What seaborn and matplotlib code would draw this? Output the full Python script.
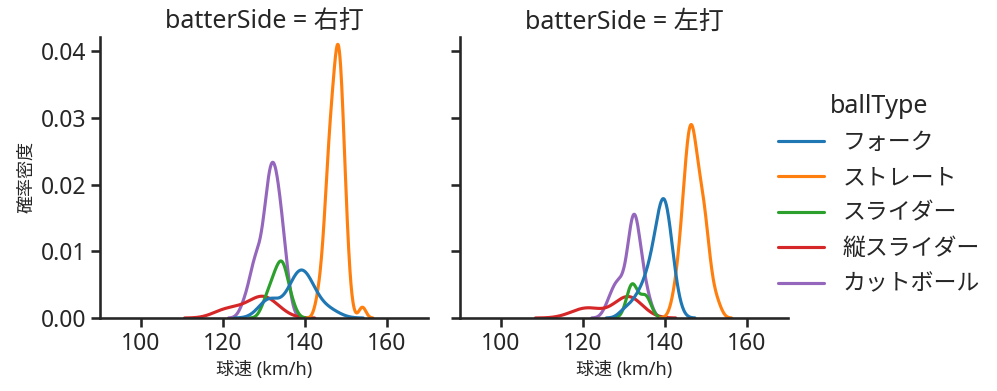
import numpy as np
import pandas as pd
import seaborn as sns
import matplotlib.pyplot as plt

# pitch speed (km/h) and number of pitches at that speed, per batter side / ball type
# vs right-handed batters (右打)
r_fork_kmh = [130, 131, 132, 136, 137, 138, 139, 140, 141, 142, 143, 145, 147]
r_fork_n = [1, 2, 2, 1, 2, 3, 3, 3, 2, 1, 1, 1, 1]
r_straight_kmh = [143, 144, 145, 146, 147, 148, 149, 150, 151, 154]
r_straight_n = [1, 2, 5, 9, 10, 14, 11, 5, 1, 1]
r_slider_kmh = [130, 131, 132, 133, 134, 135, 136, 137]
r_slider_n = [1, 1, 2, 2, 3, 3, 1, 1]
r_vslider_kmh = [119, 121, 123, 125, 127, 128, 129, 130, 131, 132, 134]
r_vslider_n = [1, 1, 1, 1, 1, 1, 1, 2, 1, 1, 1]
r_cut_kmh = [125, 126, 127, 128, 129, 130, 131, 132, 133, 134, 135, 136]
r_cut_n = [1, 1, 2, 4, 2, 4, 7, 8, 7, 5, 4, 1]

# vs left-handed batters (左打)
l_fork_kmh = [130, 132, 133, 134, 135, 136, 137, 138, 139, 140, 141, 142, 143]
l_fork_n = [1, 1, 1, 1, 2, 2, 3, 4, 6, 7, 5, 2, 1]
l_straight_kmh = [142, 143, 144, 145, 146, 147, 148, 149, 150, 151, 152, 153]
l_straight_n = [1, 2, 4, 7, 10, 9, 6, 6, 5, 2, 1, 1]
l_slider_kmh = [131, 132, 133, 135, 136]
l_slider_n = [1, 3, 1, 2, 1]
l_vslider_kmh = [118, 121, 123, 129, 130, 131, 132, 133]
l_vslider_n = [1, 2, 1, 1, 2, 2, 2, 1]
l_cut_kmh = [126, 127, 128, 129, 130, 131, 132, 133, 134, 135, 136]
l_cut_n = [1, 1, 2, 2, 1, 2, 7, 6, 2, 2, 1]

ball_types = ['フォーク', 'ストレート', 'スライダー', '縦スライダー', 'カットボール']
sides = ['右打', '左打']


def make_rows(side, ball, kmh, n):
    return pd.DataFrame({'batterSide': side, 'ballType': ball, 'speed': np.repeat(kmh, n)})


frames = [
    make_rows('右打', 'フォーク', r_fork_kmh, r_fork_n),
    make_rows('右打', 'ストレート', r_straight_kmh, r_straight_n),
    make_rows('右打', 'スライダー', r_slider_kmh, r_slider_n),
    make_rows('右打', '縦スライダー', r_vslider_kmh, r_vslider_n),
    make_rows('右打', 'カットボール', r_cut_kmh, r_cut_n),
    make_rows('左打', 'フォーク', l_fork_kmh, l_fork_n),
    make_rows('左打', 'ストレート', l_straight_kmh, l_straight_n),
    make_rows('左打', 'スライダー', l_slider_kmh, l_slider_n),
    make_rows('左打', '縦スライダー', l_vslider_kmh, l_vslider_n),
    make_rows('左打', 'カットボール', l_cut_kmh, l_cut_n),
]
data = pd.concat(frames, ignore_index=True)

sns.set_theme(style='ticks', context='talk', palette='tab10')
plt.rcParams['font.family'] = ['Noto Sans', 'Noto Sans CJK JP', 'DejaVu Sans']
plt.rcParams['xtick.major.size'] = 6.5
plt.rcParams['ytick.major.size'] = 6.5

g = sns.displot(data, x='speed', hue='ballType', col='batterSide', kind='kde',
                hue_order=ball_types, col_order=sides, height=3.9, aspect=1.0)

g.set_axis_labels('球速 (km/h)', '確率密度', fontsize=13)
g.set_titles('batterSide = {col_name}', size=18)
g.set(xlim=(90, 170), ylim=(0, 0.0421))
g.set(xticks=[100, 120, 140, 160], yticks=[0, 0.01, 0.02, 0.03, 0.04])

g.figure.set_size_inches(9.97, 3.91)
g.figure.subplots_adjust(left=0.1003, right=0.7904, bottom=0.1867, top=0.9054, wspace=0.0976)
sns.move_legend(g, 'center left', bbox_to_anchor=(0.760, 0.5))

g.figure.savefig('out.png', dpi=100)
